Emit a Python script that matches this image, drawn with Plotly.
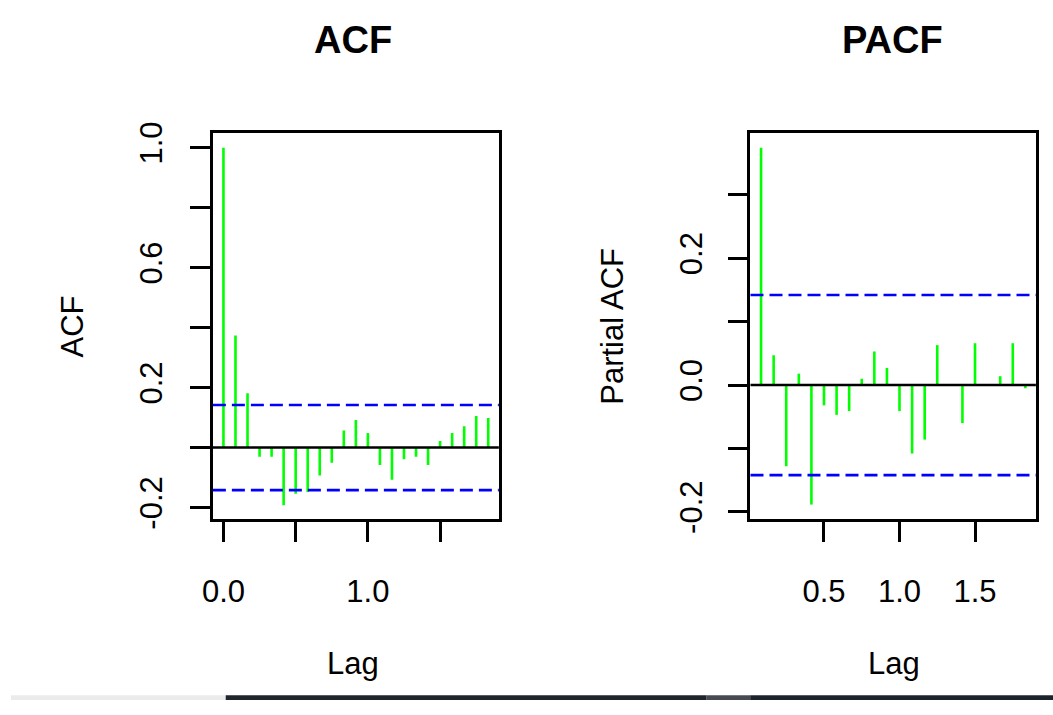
import plotly.graph_objects as go

# ---------------- data ----------------
FREQ = 12
acf_lag_index = [0, 1, 2, 3, 4, 5, 6, 7, 8, 9, 10, 11, 12, 13, 14, 15, 16, 17, 18, 19, 20, 21, 22]
acf_values = [1.000, 0.374, 0.181, -0.031, -0.031, -0.192, -0.154, -0.148, -0.093, -0.051,
              0.057, 0.092, 0.049, -0.058, -0.107, -0.039, -0.031, -0.058, 0.022, 0.049,
              0.071, 0.105, 0.099]

pacf_lag_index = [1, 2, 3, 4, 5, 6, 7, 8, 9, 10, 11, 12, 13, 14, 15, 16, 17, 18, 19, 20, 21, 22]
pacf_values = [0.3745, 0.047, -0.128, 0.018, -0.1885, -0.032, -0.047, -0.041, 0.010, 0.053,
               0.027, -0.041, -0.108, -0.086, 0.063, 0.001, -0.060, 0.066, -0.001, 0.014,
               0.066, -0.005]

conf_limit = 0.142

acf_xticks = [0, 0.5, 1.0, 1.5]
acf_xticktext = ["0.0", "", "1.0", ""]
acf_yticks = [-0.2, 0.0, 0.2, 0.4, 0.6, 0.8, 1.0]
acf_yticktext = ["-0.2", "", "0.2", "", "0.6", "", "1.0"]

pacf_xticks = [0.5, 1.0, 1.5]
pacf_xticktext = ["0.5", "1.0", "1.5"]
pacf_yticks = [-0.2, -0.1, 0.0, 0.1, 0.2, 0.3]
pacf_yticktext = ["-0.2", "", "0.0", "", "0.2", ""]

# ---------------- helpers ----------------
W, H = 1053, 715
FONT = "Liberation Sans, Arial, sans-serif"
GREEN = "#00ff00"
BLUE = "#0000ff"


def spikes(idx, vals):
    xs, ys = [], []
    for i, v in zip(idx, vals):
        lag = i / FREQ
        xs += [lag, lag, None]
        ys += [0, v, None]
    return xs, ys


def px(xp):
    return xp / W


def py(yp):
    return 1 - yp / H


fig = go.Figure()

ax, ay = spikes(acf_lag_index, acf_values)
fig.add_trace(go.Scatter(x=ax, y=ay, mode="lines", line=dict(color=GREEN, width=2.6),
                         xaxis="x", yaxis="y", showlegend=False, hoverinfo="skip"))
bx, by = spikes(pacf_lag_index, pacf_values)
fig.add_trace(go.Scatter(x=bx, y=by, mode="lines", line=dict(color=GREEN, width=2.6),
                         xaxis="x2", yaxis="y2", showlegend=False, hoverinfo="skip"))

ydom = [py(527), py(127)]
common_axis = dict(showline=True, linecolor="black", linewidth=2.5, mirror=True,
                   ticks="outside", ticklen=20, tickwidth=2.5, tickcolor="black",
                   showgrid=False, zeroline=False,
                   tickfont=dict(family=FONT, size=31, color="black"))

fig.update_layout(
    width=W, height=H,
    margin=dict(l=0, r=0, t=0, b=0),
    paper_bgcolor="white", plot_bgcolor="white",
    xaxis=dict(domain=[px(204), px(493)], anchor="y", range=[-0.0733, 1.9067],
               tickmode="array", tickvals=acf_xticks, ticktext=acf_xticktext,
               ticklabelstandoff=23, **common_axis),
    yaxis=dict(domain=ydom, anchor="x", range=[-0.2376, 1.0476],
               tickmode="array", tickvals=acf_yticks, ticktext=acf_yticktext,
               tickangle=-90, ticklabelstandoff=16, **common_axis),
    xaxis2=dict(domain=[px(747.3), px(1035.7)], anchor="y2", range=[0.0133, 1.903],
                tickmode="array", tickvals=pacf_xticks, ticktext=pacf_xticktext,
                ticklabelstandoff=23, **common_axis),
    yaxis2=dict(domain=ydom, anchor="x2", range=[-0.211, 0.397],
                tickmode="array", tickvals=pacf_yticks, ticktext=pacf_yticktext,
                tickangle=-90, ticklabelstandoff=13, **common_axis),
)

shapes = []
for xr, yr in (("x", "y"), ("x2", "y2")):
    shapes.append(dict(type="line", xref=f"{xr} domain", yref=yr, x0=0, x1=1, y0=0, y1=0,
                       line=dict(color="black", width=2.5)))
    for s in (1, -1):
        shapes.append(dict(type="line", xref=f"{xr} domain", yref=yr, x0=0, x1=1,
                           y0=s * conf_limit, y1=s * conf_limit,
                           line=dict(color=BLUE, width=2.6, dash="13px,6px")))

# bottom screenshot strip
strip = [(0, 217, "#ebebeb"), (217, 703, "#1f252a"), (703, 747, "#474b50"), (747, 1053, "#1b242c")]
for x0, x1, c in strip:
    shapes.append(dict(type="rect", xref="paper", yref="paper", x0=px(x0), x1=px(x1),
                       y0=0, y1=py(710), fillcolor=c, line=dict(width=0), layer="above"))
fig.update_layout(shapes=shapes)

ann = []
ann.append(dict(text="<b>ACF</b>", x=px(346), y=py(30), font=dict(family=FONT, size=38, color="black")))
ann.append(dict(text="<b>PACF</b>", x=px(891), y=py(30), font=dict(family=FONT, size=38, color="black")))
ann.append(dict(text="Lag", x=px(346), y=py(677), font=dict(family=FONT, size=31, color="black")))
ann.append(dict(text="Lag", x=px(892), y=py(677), font=dict(family=FONT, size=31, color="black")))
ann.append(dict(text="ACF", x=px(62), y=py(327), textangle=-90, font=dict(family=FONT, size=31, color="black")))
ann.append(dict(text="Partial ACF", x=px(607), y=py(327), textangle=-90, font=dict(family=FONT, size=31, color="black")))
for a in ann:
    a.update(xref="paper", yref="paper", xanchor="center", yanchor="middle", showarrow=False)
fig.update_layout(annotations=ann)

fig.write_html("out.html",
               post_script="document.body.style.margin='0';document.body.style.overflow='hidden';")
